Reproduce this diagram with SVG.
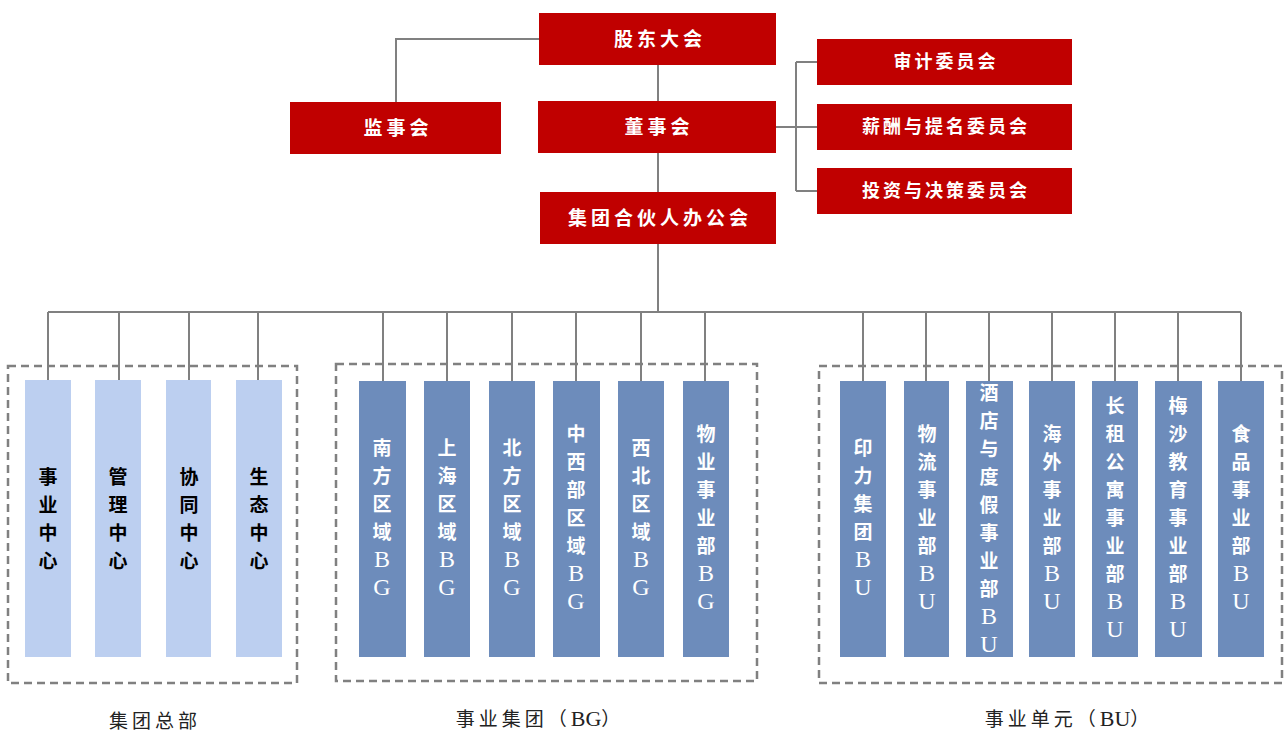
<svg xmlns="http://www.w3.org/2000/svg" width="1285" height="733" viewBox="0 0 1285 733">
<style>
.red{fill:#C00000}
.lb{fill:#BCCFF0}
.db{fill:#6D8CBB}
.t{font-family:"Liberation Serif","Noto Sans CJK SC",serif;font-weight:700;font-size:19px;fill:#fff;text-anchor:middle;letter-spacing:4px}
.tc{font-size:18px;letter-spacing:3px}
.v{font-family:"Liberation Serif","Noto Sans CJK SC",serif;font-weight:700;font-size:19px;fill:#fff;text-anchor:middle}
.vk{fill:#000}
.lat{font-weight:400;font-size:24px}
.cl{font-size:22px;letter-spacing:0}
.cap{font-family:"Liberation Serif","Noto Sans CJK SC",serif;font-size:19px;fill:#222;text-anchor:middle;letter-spacing:4px}
.ln{fill:none;stroke:#808080;stroke-width:2}
.dash{fill:none;stroke:#808080;stroke-width:2.5;stroke-dasharray:8 5}
</style>
<rect width="1285" height="733" fill="#fff"/>
<g id="connectors">
<path class="ln" d="M396 102V39H539"/>
<path class="ln" d="M658 65V101M658 153V192M658 244V312"/>
<path class="ln" d="M776 127H817M796 62V191M796 62H817M796 191H817"/>
<path class="ln" d="M48 312H1241"/>
<path class="ln" d="M48 312V380M119 312V380M189 312V380M258 312V380"/>
<path class="ln" d="M383 312V381M447 312V381M512 312V381M576 312V381M641 312V381M705 312V381"/>
<path class="ln" d="M863 312V381M926 312V381M989 312V381M1052 312V381M1115 312V381M1178 312V381M1241 312V381"/>
</g>
<g id="groups">
<rect class="dash" x="8" y="366" width="289" height="317"/>
<rect class="dash" x="336" y="364" width="421" height="317"/>
<rect class="dash" x="819" y="366" width="463" height="317"/>
<text class="cap" x="155" y="728">集团总部</text>
<text class="cap" x="540" y="726">事业集团（<tspan class="cl">BG</tspan>）</text>
<text class="cap" x="1069" y="726">事业单元（<tspan class="cl">BU</tspan>）</text>
</g>
<g id="n-gdhd"><rect class="red" x="539" y="13" width="237" height="52"/><text class="t" x="660" y="46">股东大会</text></g>
<g id="n-jsh"><rect class="red" x="290" y="102" width="211" height="52"/><text class="t" x="398" y="135">监事会</text></g>
<g id="n-dsh"><rect class="red" x="538" y="101" width="238" height="52"/><text class="t" x="659" y="134">董事会</text></g>
<g id="n-hhr"><rect class="red" x="540" y="192" width="236" height="52"/><text class="t" x="660" y="225">集团合伙人办公会</text></g>
<g id="n-sj"><rect class="red" x="817" y="39" width="255" height="46"/><text class="t tc" x="946" y="68">审计委员会</text></g>
<g id="n-xc"><rect class="red" x="817" y="104" width="255" height="46"/><text class="t tc" x="946" y="133">薪酬与提名委员会</text></g>
<g id="n-tz"><rect class="red" x="817" y="168" width="255" height="46"/><text class="t tc" x="946" y="197">投资与决策委员会</text></g>

<g id="n-syzx"><rect class="lb" x="25" y="380" width="46" height="277"/><text class="v vk" x="48" y="484"><tspan x="48">事</tspan><tspan x="48" dy="28">业</tspan><tspan x="48" dy="28">中</tspan><tspan x="48" dy="28">心</tspan></text></g>
<g id="n-glzx"><rect class="lb" x="95" y="380" width="46" height="277"/><text class="v vk" x="118" y="484"><tspan x="118">管</tspan><tspan x="118" dy="28">理</tspan><tspan x="118" dy="28">中</tspan><tspan x="118" dy="28">心</tspan></text></g>
<g id="n-xtzx"><rect class="lb" x="166" y="380" width="45" height="277"/><text class="v vk" x="189" y="484"><tspan x="189">协</tspan><tspan x="189" dy="28">同</tspan><tspan x="189" dy="28">中</tspan><tspan x="189" dy="28">心</tspan></text></g>
<g id="n-stzx"><rect class="lb" x="236" y="380" width="46" height="277"/><text class="v vk" x="259" y="484"><tspan x="259">生</tspan><tspan x="259" dy="28">态</tspan><tspan x="259" dy="28">中</tspan><tspan x="259" dy="28">心</tspan></text></g>

<g id="n-nf"><rect class="db" x="359" y="381" width="47" height="276"/><text class="v" x="382" y="455"><tspan x="382">南</tspan><tspan x="382" dy="28">方</tspan><tspan x="382" dy="28">区</tspan><tspan x="382" dy="28">域</tspan><tspan x="382" dy="28" class="lat">B</tspan><tspan x="382" dy="28" class="lat">G</tspan></text></g>
<g id="n-sh"><rect class="db" x="424" y="381" width="46" height="276"/><text class="v" x="447" y="455"><tspan x="447">上</tspan><tspan x="447" dy="28">海</tspan><tspan x="447" dy="28">区</tspan><tspan x="447" dy="28">域</tspan><tspan x="447" dy="28" class="lat">B</tspan><tspan x="447" dy="28" class="lat">G</tspan></text></g>
<g id="n-bf"><rect class="db" x="489" y="381" width="46" height="276"/><text class="v" x="512" y="455"><tspan x="512">北</tspan><tspan x="512" dy="28">方</tspan><tspan x="512" dy="28">区</tspan><tspan x="512" dy="28">域</tspan><tspan x="512" dy="28" class="lat">B</tspan><tspan x="512" dy="28" class="lat">G</tspan></text></g>
<g id="n-zxb"><rect class="db" x="553" y="381" width="47" height="276"/><text class="v" x="576" y="441"><tspan x="576">中</tspan><tspan x="576" dy="28">西</tspan><tspan x="576" dy="28">部</tspan><tspan x="576" dy="28">区</tspan><tspan x="576" dy="28">域</tspan><tspan x="576" dy="28" class="lat">B</tspan><tspan x="576" dy="28" class="lat">G</tspan></text></g>
<g id="n-xb"><rect class="db" x="618" y="381" width="46" height="276"/><text class="v" x="641" y="455"><tspan x="641">西</tspan><tspan x="641" dy="28">北</tspan><tspan x="641" dy="28">区</tspan><tspan x="641" dy="28">域</tspan><tspan x="641" dy="28" class="lat">B</tspan><tspan x="641" dy="28" class="lat">G</tspan></text></g>
<g id="n-wy"><rect class="db" x="683" y="381" width="46" height="276"/><text class="v" x="706" y="441"><tspan x="706">物</tspan><tspan x="706" dy="28">业</tspan><tspan x="706" dy="28">事</tspan><tspan x="706" dy="28">业</tspan><tspan x="706" dy="28">部</tspan><tspan x="706" dy="28" class="lat">B</tspan><tspan x="706" dy="28" class="lat">G</tspan></text></g>

<g id="n-yl"><rect class="db" x="840" y="381" width="46" height="276"/><text class="v" x="863" y="455"><tspan x="863">印</tspan><tspan x="863" dy="28">力</tspan><tspan x="863" dy="28">集</tspan><tspan x="863" dy="28">团</tspan><tspan x="863" dy="28" class="lat">B</tspan><tspan x="863" dy="28" class="lat">U</tspan></text></g>
<g id="n-wl"><rect class="db" x="904" y="381" width="45" height="276"/><text class="v" x="927" y="441"><tspan x="927">物</tspan><tspan x="927" dy="28">流</tspan><tspan x="927" dy="28">事</tspan><tspan x="927" dy="28">业</tspan><tspan x="927" dy="28">部</tspan><tspan x="927" dy="28" class="lat">B</tspan><tspan x="927" dy="28" class="lat">U</tspan></text></g>
<g id="n-jd"><rect class="db" x="966" y="381" width="47" height="276"/><text class="v" x="989" y="400"><tspan x="989">酒</tspan><tspan x="989" dy="28">店</tspan><tspan x="989" dy="28">与</tspan><tspan x="989" dy="28">度</tspan><tspan x="989" dy="28">假</tspan><tspan x="989" dy="28">事</tspan><tspan x="989" dy="28">业</tspan><tspan x="989" dy="28">部</tspan><tspan x="989" dy="28" class="lat">B</tspan><tspan x="989" dy="28" class="lat">U</tspan></text></g>
<g id="n-hw"><rect class="db" x="1029" y="381" width="46" height="276"/><text class="v" x="1052" y="441"><tspan x="1052">海</tspan><tspan x="1052" dy="28">外</tspan><tspan x="1052" dy="28">事</tspan><tspan x="1052" dy="28">业</tspan><tspan x="1052" dy="28">部</tspan><tspan x="1052" dy="28" class="lat">B</tspan><tspan x="1052" dy="28" class="lat">U</tspan></text></g>
<g id="n-cz"><rect class="db" x="1092" y="381" width="46" height="276"/><text class="v" x="1115" y="413"><tspan x="1115">长</tspan><tspan x="1115" dy="28">租</tspan><tspan x="1115" dy="28">公</tspan><tspan x="1115" dy="28">寓</tspan><tspan x="1115" dy="28">事</tspan><tspan x="1115" dy="28">业</tspan><tspan x="1115" dy="28">部</tspan><tspan x="1115" dy="28" class="lat">B</tspan><tspan x="1115" dy="28" class="lat">U</tspan></text></g>
<g id="n-ms"><rect class="db" x="1155" y="381" width="47" height="276"/><text class="v" x="1178" y="413"><tspan x="1178">梅</tspan><tspan x="1178" dy="28">沙</tspan><tspan x="1178" dy="28">教</tspan><tspan x="1178" dy="28">育</tspan><tspan x="1178" dy="28">事</tspan><tspan x="1178" dy="28">业</tspan><tspan x="1178" dy="28">部</tspan><tspan x="1178" dy="28" class="lat">B</tspan><tspan x="1178" dy="28" class="lat">U</tspan></text></g>
<g id="n-sp"><rect class="db" x="1218" y="381" width="46" height="276"/><text class="v" x="1241" y="441"><tspan x="1241">食</tspan><tspan x="1241" dy="28">品</tspan><tspan x="1241" dy="28">事</tspan><tspan x="1241" dy="28">业</tspan><tspan x="1241" dy="28">部</tspan><tspan x="1241" dy="28" class="lat">B</tspan><tspan x="1241" dy="28" class="lat">U</tspan></text></g>
</svg>
